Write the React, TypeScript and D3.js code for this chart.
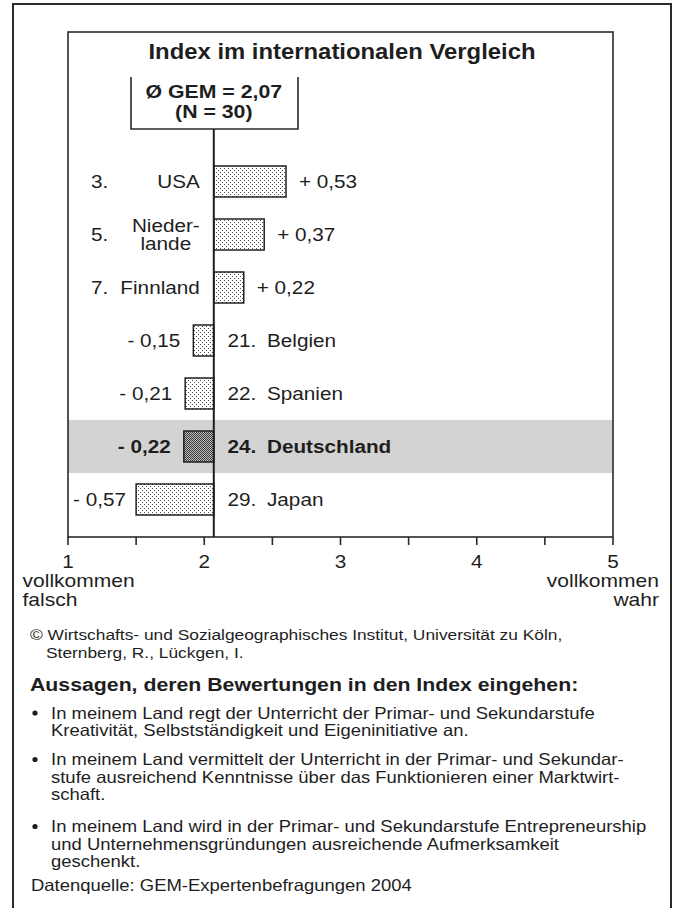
import React from 'react';
import * as d3 from 'd3';

// ---------- data ----------
const countries = ['USA', 'Niederlande', 'Finnland', 'Belgien', 'Spanien', 'Deutschland', 'Japan'];
const countryLabelLines = [['USA'], ['Nieder-', 'lande'], ['Finnland'], ['Belgien'], ['Spanien'], ['Deutschland'], ['Japan']];
const ranks = [3, 5, 7, 21, 22, 24, 29];
const deviations = [0.53, 0.37, 0.22, -0.15, -0.21, -0.22, -0.57];
const highlightCountry = 'Deutschland';
const gemMean = 2.07;
const gemN = 30;
const axisLabels = [1, 2, 3, 4, 5];
const axisMinorTicks = [1, 1.5, 2, 2.5, 3, 3.5, 4, 4.5, 5];
const chartTitle = 'Index im internationalen Vergleich';
const lowEndLabel = ['vollkommen', 'falsch'];
const highEndLabel = ['vollkommen', 'wahr'];
const copyrightLines = [
  '© Wirtschafts- und Sozialgeographisches Institut, Universität zu Köln,',
  'Sternberg, R., Lückgen, I.',
];
const statementsHeading = 'Aussagen, deren Bewertungen in den Index eingehen:';
const statements = [
  ['In meinem Land regt der Unterricht der Primar- und Sekundarstufe', 'Kreativität, Selbstständigkeit und Eigeninitiative an.'],
  ['In meinem Land vermittelt der Unterricht in der Primar- und Sekundar-', 'stufe ausreichend Kenntnisse über das Funktionieren einer Marktwirt-', 'schaft.'],
  ['In meinem Land wird in der Primar- und Sekundarstufe Entrepreneurship', 'und Unternehmensgründungen ausreichende Aufmerksamkeit', 'geschenkt.'],
];
const dataSource = 'Datenquelle: GEM-Expertenbefragungen 2004';

// ---------- style ----------
const FONT = '"Liberation Sans", Arial, Helvetica, sans-serif';
const SX = 1.12; // horizontal stretch of the lettering
const INK = '#1e1e1e';
const W = 677;
const H = 908;

const box = { left: 68, right: 613, top: 32, bottom: 537 };

let measureCtx: CanvasRenderingContext2D | null = null;
function textWidth(s: string, size: number, weight = 'normal') {
  if (!measureCtx) {
    const c = document.createElement('canvas');
    measureCtx = c.getContext('2d');
  }
  if (!measureCtx) return s.length * size * 0.55 * SX;
  measureCtx.font = `${weight} ${size}px ${FONT}`;
  return measureCtx.measureText(s).width * SX;
}

function T(props: {
  x: number; y: number; size?: number; weight?: string; anchor?: string; children: React.ReactNode;
}) {
  const { x, y, size = 18.5, weight = 'normal', anchor = 'start', children } = props;
  return (
    <text
      transform={`translate(${x},${y}) scale(${SX},1)`}
      fontSize={size}
      fontWeight={weight}
      textAnchor={anchor as any}
      fontFamily={FONT}
      fill={INK}
    >
      {children}
    </text>
  );
}

const fmt = (v: number) => (v >= 0 ? '+ ' : '- ') + Math.abs(v).toFixed(2).replace('.', ',');

export default function App() {
  const x = d3.scaleLinear().domain([1, 5]).range([box.left, box.right]);
  const y = d3.scaleBand<string>().domain(countries).range([155, 526]).paddingInner(0);
  const barH = 31;
  const x0 = x(gemMean);
  const labelSize = 18.5;
  const gap = 13;

  const gemBox = { left: 131, right: 298, top: 77, bottom: 129 };

  return (
    <svg
      width={W}
      height={H}
      viewBox={`0 0 ${W} ${H}`}
      style={{ position: 'absolute', left: 0, top: 0, background: '#fff' }}
    >
      <defs>
        <pattern id="dotsLight" width="4" height="4" patternUnits="userSpaceOnUse">
          <rect width="4" height="4" fill="#ffffff" />
          <rect x="0" y="0" width="1" height="1" fill="#4a4a4a" />
          <rect x="2" y="2" width="1" height="1" fill="#4a4a4a" />
        </pattern>
        <pattern id="dotsDark" width="2" height="2" patternUnits="userSpaceOnUse">
          <rect width="2" height="2" fill="#bdbdbd" />
          <rect x="0" y="0" width="1" height="1" fill="#3a3a3a" />
          <rect x="1" y="1" width="1" height="1" fill="#3a3a3a" />
        </pattern>
      </defs>

      {/* outer frame */}
      <rect x={13} y={4} width={658} height={930} fill="none" stroke="#2a2a2a" strokeWidth={2} />

      {/* highlight band */}
      {countries.map((c) =>
        c === highlightCountry ? (
          <rect key={'hl' + c} x={box.left} y={y(c)!} width={box.right - box.left} height={y.bandwidth()} fill="#d3d3d3" />
        ) : null
      )}

      {/* inner chart box */}
      <rect
        x={box.left}
        y={box.top}
        width={box.right - box.left}
        height={box.bottom - box.top}
        fill="none"
        stroke="#2a2a2a"
        strokeWidth={1.6}
      />

      {/* title */}
      <T x={342} y={59} size={21.3} weight="bold" anchor="middle">{chartTitle}</T>

      {/* GEM box */}
      <path
        d={`M${gemBox.left},${gemBox.top}V${gemBox.bottom}H${gemBox.right}V${gemBox.top}`}
        fill="none"
        stroke="#2a2a2a"
        strokeWidth={1.6}
      />
      <T x={x0} y={98} size={19} weight="bold" anchor="middle">{`Ø GEM = ${gemMean.toFixed(2).replace('.', ',')}`}</T>
      <T x={x0} y={118} size={19} weight="bold" anchor="middle">{`(N = ${gemN})`}</T>

      {/* bars */}
      {countries.map((c, i) => {
        const v = deviations[i];
        const cy = y(c)! + y.bandwidth() / 2;
        const xa = x(gemMean + Math.min(0, v));
        const xb = x(gemMean + Math.max(0, v));
        const hl = c === highlightCountry;
        return (
          <rect
            key={'bar' + c}
            x={xa}
            y={cy - barH / 2}
            width={xb - xa}
            height={barH}
            fill={hl ? 'url(#dotsDark)' : 'url(#dotsLight)'}
            stroke="#222"
            strokeWidth={1.5}
          />
        );
      })}

      {/* labels */}
      {countries.map((c, i) => {
        const v = deviations[i];
        const cy = y(c)! + y.bandwidth() / 2;
        const base = cy + 6.6;
        const hl = c === highlightCountry;
        const weight = hl ? 'bold' : 'normal';
        const lines = countryLabelLines[i];
        const valueText = fmt(v);
        if (v >= 0) {
          const nameRight = x0 - 14;
          const widest = Math.max(...lines.map((l) => textWidth(l, labelSize, weight)));
          return (
            <g key={'lab' + c}>
              <T x={91} y={base} weight={weight}>{`${ranks[i]}.`}</T>
              {lines.length === 1 ? (
                <T x={nameRight} y={base} weight={weight} anchor="end">{lines[0]}</T>
              ) : (
                lines.map((l, k) => (
                  <T
                    key={k}
                    x={nameRight - widest / 2}
                    y={base + (k - (lines.length - 1) / 2) * 18.6}
                    weight={weight}
                    anchor="middle"
                  >
                    {l}
                  </T>
                ))
              )}
              <T x={x(gemMean + v) + gap} y={base} weight={weight}>{valueText}</T>
            </g>
          );
        }
        const barLeft = x(gemMean + v);
        const vw = textWidth(valueText, labelSize, weight);
        const valueEnd = Math.max(barLeft - gap, box.left + 5 + vw);
        return (
          <g key={'lab' + c}>
            <T x={valueEnd} y={base} weight={weight} anchor="end">{valueText}</T>
            <T x={227.5} y={base} weight={weight}>{`${ranks[i]}.`}</T>
            <T x={267} y={base} weight={weight}>{lines.join(' ')}</T>
          </g>
        );
      })}

      {/* mean line */}
      <line x1={x0} x2={x0} y1={gemBox.bottom} y2={box.bottom} stroke="#1e1e1e" strokeWidth={2} />

      {/* axis ticks */}
      {axisMinorTicks.map((t) => (
        <line key={'t' + t} x1={x(t)} x2={x(t)} y1={box.bottom} y2={box.bottom + 8} stroke="#2a2a2a" strokeWidth={1.6} />
      ))}
      {axisLabels.map((t) => (
        <T key={'tl' + t} x={x(t)} y={568} anchor="middle">{String(t)}</T>
      ))}
      {lowEndLabel.map((l, k) => (
        <T key={'lo' + k} x={22.5} y={587 + k * 18.5} size={18.8}>{l}</T>
      ))}
      {highEndLabel.map((l, k) => (
        <T key={'hi' + k} x={659} y={587 + k * 18.5} size={18.8} anchor="end">{l}</T>
      ))}

      {/* copyright */}
      <T x={30} y={640} size={15.5}>{copyrightLines[0]}</T>
      <T x={46} y={658} size={15.5}>{copyrightLines[1]}</T>

      {/* statements */}
      <T x={30} y={691} size={19} weight="bold">{statementsHeading}</T>
      {statements.map((lines, si) => {
        const starts = [718.5, 765, 832];
        const y0 = starts[si];
        return (
          <g key={'st' + si}>
            <circle cx={35} cy={y0 - 5.5} r={2.6} fill={INK} />
            {lines.map((l, k) => (
              <T key={k} x={51} y={y0 + k * 17.5} size={16.5}>{l}</T>
            ))}
          </g>
        );
      })}
      <T x={31} y={891} size={16.5}>{dataSource}</T>
    </svg>
  );
}
